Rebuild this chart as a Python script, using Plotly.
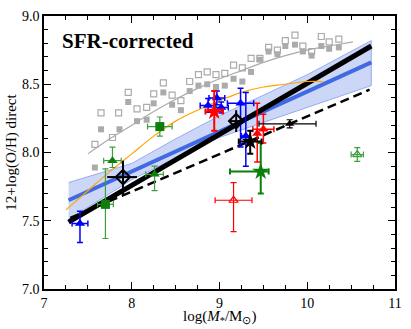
import plotly.graph_objects as go

# ── colours ─────────────────────────────────────────────────────────────────
GREY = "#ababab"
BLUE = "#0000ff"
RED = "#ff0000"
GREEN = "#0a800a"
GREEN_LT = "#3d9e3d"
ROYAL = "#4169e1"
BAND = "rgba(120,150,235,0.38)"
ORANGE = "#ffa500"
FONT = "Liberation Serif"

# ── background sample (grey squares + running fit) ─────────────────────────
GREY_OPEN_X = [7.58, 7.65, 7.78, 7.85, 7.96, 8.06, 8.17, 8.25, 8.36, 8.46, 8.56, 8.66,
               8.76, 8.86, 8.96, 9.06, 9.16, 9.26, 9.36, 9.46, 9.56, 9.66, 9.75, 9.86,
               9.95, 10.05, 10.16, 10.25, 10.36]
GREY_OPEN_Y = [8.06, 8.29, 8.11, 8.29, 8.44, 8.32, 8.33, 8.43, 8.51, 8.42, 8.38, 8.52,
               8.57, 8.59, 8.57, 8.58, 8.64, 8.62, 8.69, 8.69, 8.77, 8.75, 8.82, 8.86,
               8.78, 8.74, 8.85, 8.81, 8.83]
GREY_FILL_X = [7.58, 7.65, 7.86, 7.96, 8.06, 8.17, 8.25, 8.36, 8.46, 8.56, 8.66, 8.76,
               8.86, 8.96, 9.06, 9.16, 9.26, 9.36, 9.46, 9.56, 9.66, 9.75, 9.86, 9.95,
               10.05, 10.16, 10.25, 10.36]
GREY_FILL_Y = [7.89, 8.17, 8.17, 8.37, 8.23, 8.24, 8.36, 8.44, 8.35, 8.31, 8.45, 8.49,
               8.50, 8.48, 8.49, 8.54, 8.52, 8.59, 8.68, 8.74, 8.72, 8.78, 8.79, 8.74,
               8.71, 8.78, 8.76, 8.77]
GREY_LINE_X = [7.5, 7.75, 8.0, 8.25, 8.5, 8.75, 9.0, 9.25, 9.5, 9.75, 10.0, 10.25, 10.52]
GREY_LINE_Y = [7.99, 8.10, 8.20, 8.30, 8.39, 8.47, 8.54, 8.60, 8.66, 8.71, 8.75, 8.78, 8.81]

ORANGE_X = [7.25, 7.5, 7.75, 8.0, 8.25, 8.5, 8.75, 9.0, 9.25, 9.5, 9.75, 10.0, 10.18]
ORANGE_Y = [7.58, 7.72, 7.86, 7.99, 8.12, 8.23, 8.31, 8.38, 8.44, 8.48, 8.50, 8.52, 8.52]

# ── fits ────────────────────────────────────────────────────────────────────
FIT_X = [7.28, 10.73]
BLACK_FIT_Y = [7.49, 8.78]
BLUE_FIT_Y = [7.65, 8.66]
DASH_X = [7.30, 10.71]
DASH_Y = [7.52, 8.46]
BAND_X = [7.28, 8.0, 8.5, 9.0, 9.5, 10.0, 10.73]
BAND_HI = [7.78, 7.92, 8.10, 8.27, 8.42, 8.57, 8.82]
BAND_LO = [7.51, 7.80, 7.96, 8.11, 8.22, 8.33, 8.49]

# ── individual galaxies ─────────────────────────────────────────────────────
BLUE_TRI_X = [7.41, 8.87, 8.97, 9.02, 9.24, 9.30]
BLUE_TRI_Y = [7.48, 8.345, 8.40, 8.33, 8.36, 8.12]
BLUE_TRI_YP = [0.09, 0.05, 0.05, 0.04, 0.11, 0.32]
BLUE_TRI_YM = [0.14, 0.05, 0.05, 0.04, 0.32, 0.22]
BLUE_TRI_XE = [0.09, 0.09, 0.09, 0.08, 0.15, 0.05]

RED_STAR_X = [8.94]
RED_STAR_Y = [8.30]
RED_STAR_YP = [0.15]
RED_STAR_YM = [0.14]
RED_STAR_XE = [0.10]

RED_TRI_X = [9.43, 9.50]
RED_TRI_Y = [8.14, 8.17]
RED_TRI_YP = [0.22, 0.11]
RED_TRI_YM = [0.21, 0.10]
RED_TRI_XE = [0.0, 0.12]

RED_OPEN_X = [9.16]
RED_OPEN_Y = [7.65]
RED_OPEN_YP = [0.13]
RED_OPEN_YM = [0.23]
RED_OPEN_XE = [0.21]

GREEN_SQ_X = [7.70, 8.32]
GREEN_SQ_Y = [7.62, 8.19]
GREEN_SQ_YP = [0.26, 0.07]
GREEN_SQ_YM = [0.25, 0.07]
GREEN_SQ_XE = [0.09, 0.14]

GREEN_TRI_X = [7.78, 8.26]
GREEN_TRI_Y = [7.94, 7.84]
GREEN_TRI_YP = [0.10, 0.06]
GREEN_TRI_YM = [0.05, 0.12]
GREEN_TRI_XE = [0.10, 0.10]

GREEN_STAR_X = [9.47]
GREEN_STAR_Y = [7.86]
GREEN_STAR_YP = [0.21]
GREEN_STAR_YM = [0.16]
GREEN_STAR_XP = [0.09]
GREEN_STAR_XM = [0.35]

GREEN_OPEN_X = [10.57]
GREEN_OPEN_Y = [7.985]
GREEN_OPEN_YE = [0.05]
GREEN_OPEN_XE = [0.07]

BLACK_DIA_X = [7.90, 9.19]
BLACK_DIA_Y = [7.82, 8.23]
BLACK_DIA_YP = [0.12, 0.08]
BLACK_DIA_YM = [0.13, 0.08]
BLACK_DIA_XP = [0.16, 0.08]
BLACK_DIA_XM = [0.18, 0.08]

BLACK_STAR_X = [9.35]
BLACK_STAR_Y = [8.08]
BLACK_STAR_YP = [0.08]
BLACK_STAR_YM = [0.09]
BLACK_STAR_XE = [0.13]

BLACK_TRI_X = [9.80]
BLACK_TRI_Y = [8.21]
BLACK_TRI_YE = [0.03]
BLACK_TRI_XP = [0.30]
BLACK_TRI_XM = [0.35]


def err(plus, minus=None, color="black", thick=1.2, width=3):
    d = dict(type="data", array=plus, color=color, thickness=thick, width=width)
    if minus is not None:
        d.update(symmetric=False, arrayminus=minus)
    return d


def points(x, y, symbol, color, size, ex, ey, line_w=0):
    return go.Scatter(
        x=x, y=y, mode="markers",
        marker=dict(symbol=symbol, color=color, size=size,
                    line=dict(color=color, width=line_w)),
        error_x=ex, error_y=ey, showlegend=False, hoverinfo="x+y",
    )


fig = go.Figure()

# grey comparison sample
fig.add_trace(go.Scatter(x=GREY_OPEN_X, y=GREY_OPEN_Y, mode="markers",
                         marker=dict(symbol="square-open", size=6, color=GREY,
                                     line=dict(width=1.2)), showlegend=False))
fig.add_trace(go.Scatter(x=GREY_FILL_X, y=GREY_FILL_Y, mode="markers",
                         marker=dict(symbol="square", size=6, color=GREY), showlegend=False))
fig.add_trace(go.Scatter(x=GREY_LINE_X, y=GREY_LINE_Y, mode="lines",
                         line=dict(color=GREY, width=1.2, shape="spline"), showlegend=False))

# confidence band of the blue fit
fig.add_trace(go.Scatter(x=BAND_X + BAND_X[::-1], y=BAND_HI + BAND_LO[::-1],
                         fill="toself", fillcolor=BAND, mode="lines",
                         line=dict(color="rgba(100,130,230,0.6)", width=1),
                         showlegend=False, hoverinfo="skip"))
fig.add_trace(go.Scatter(x=FIT_X, y=BLUE_FIT_Y, mode="lines",
                         line=dict(color=ROYAL, width=4), showlegend=False))
fig.add_trace(go.Scatter(x=FIT_X, y=BLACK_FIT_Y, mode="lines",
                         line=dict(color="black", width=5), showlegend=False))
fig.add_trace(go.Scatter(x=DASH_X, y=DASH_Y, mode="lines",
                         line=dict(color="black", width=2.5, dash="9px,5px"), showlegend=False))
fig.add_trace(go.Scatter(x=ORANGE_X, y=ORANGE_Y, mode="lines",
                         line=dict(color=ORANGE, width=1.2, shape="spline"), showlegend=False))

# galaxies
fig.add_trace(points(GREEN_OPEN_X, GREEN_OPEN_Y, "triangle-up-open", GREEN_LT, 8,
                     err(GREEN_OPEN_XE, color=GREEN_LT), err(GREEN_OPEN_YE, color=GREEN_LT),
                     line_w=1.2))
fig.add_trace(points(RED_OPEN_X, RED_OPEN_Y, "triangle-up-open", RED, 8,
                     err(RED_OPEN_XE, color=RED), err(RED_OPEN_YP, RED_OPEN_YM, color=RED),
                     line_w=1.2))
fig.add_trace(points(GREEN_SQ_X, GREEN_SQ_Y, "square", GREEN, 9,
                     err(GREEN_SQ_XE, color=GREEN_LT),
                     err(GREEN_SQ_YP, GREEN_SQ_YM, color=GREEN_LT)))
fig.add_trace(points(GREEN_TRI_X, GREEN_TRI_Y, "triangle-up", GREEN, 9,
                     err(GREEN_TRI_XE, color=GREEN_LT),
                     err(GREEN_TRI_YP, GREEN_TRI_YM, color=GREEN_LT)))
fig.add_trace(points(GREEN_STAR_X, GREEN_STAR_Y, "star", GREEN, 13,
                     err(GREEN_STAR_XP, GREEN_STAR_XM, color=GREEN, thick=2),
                     err(GREEN_STAR_YP, GREEN_STAR_YM, color=GREEN, thick=2)))
fig.add_trace(points(BLUE_TRI_X, BLUE_TRI_Y, "triangle-up", BLUE, 9,
                     err(BLUE_TRI_XE, color=BLUE, thick=1.5),
                     err(BLUE_TRI_YP, BLUE_TRI_YM, color=BLUE, thick=1.5)))
fig.add_trace(points(RED_TRI_X, RED_TRI_Y, "triangle-up", RED, 9,
                     err(RED_TRI_XE, color=RED, thick=1.5),
                     err(RED_TRI_YP, RED_TRI_YM, color=RED, thick=1.5)))
fig.add_trace(points(RED_STAR_X, RED_STAR_Y, "star", RED, 13,
                     err(RED_STAR_XE, color=RED, thick=2),
                     err(RED_STAR_YP, RED_STAR_YM, color=RED, thick=2)))
fig.add_trace(points(BLACK_TRI_X, BLACK_TRI_Y, "triangle-up", "black", 8,
                     err(BLACK_TRI_XP, BLACK_TRI_XM, thick=1.2),
                     err(BLACK_TRI_YE, thick=1.2)))
fig.add_trace(points(BLACK_STAR_X, BLACK_STAR_Y, "star", "black", 13,
                     err(BLACK_STAR_XE, thick=2), err(BLACK_STAR_YP, BLACK_STAR_YM, thick=2)))
fig.add_trace(points(BLACK_DIA_X, BLACK_DIA_Y, "diamond-open", "black", 11,
                     err(BLACK_DIA_XP, BLACK_DIA_XM, thick=2, width=0),
                     err(BLACK_DIA_YP, BLACK_DIA_YM, thick=2, width=0), line_w=2))

axis_common = dict(
    showline=True, linecolor="black", linewidth=1.5, mirror="allticks",
    ticks="inside", ticklen=7, tickwidth=1, tickcolor="black",
    showgrid=False, zeroline=False,
    tickfont=dict(family=FONT, size=14, color="black"),
)
fig.update_xaxes(range=[7, 11], dtick=1, tick0=7,
                 minor=dict(dtick=0.25, ticks="inside", ticklen=4, tickcolor="black"),
                 **axis_common)
fig.update_yaxes(range=[7, 9], dtick=0.5, tick0=7, tickformat=".1f",
                 minor=dict(dtick=0.1, ticks="inside", ticklen=4, tickcolor="black"),
                 title=dict(text="12+log(O/H) direct",
                            font=dict(family=FONT, size=15, color="black"), standoff=2),
                 **axis_common)

# x-axis title as an annotation so it sits where the reference puts it
fig.add_annotation(x=0.5, y=0, xref="paper", yref="paper", xanchor="center",
                   yanchor="top", yshift=-17, showarrow=False,
                   text="log(<i>M</i><sub>*</sub>/M<sub>⊙</sub>)",
                   font=dict(family=FONT, size=15, color="black"))
fig.add_annotation(x=0.045, y=0.96, xref="paper", yref="paper", xanchor="left",
                   yanchor="top", showarrow=False, text="<b>SFR-corrected</b>",
                   font=dict(family=FONT, size=21, color="black"))

fig.update_layout(
    width=411, height=329,
    margin=dict(l=41, r=9, t=12, b=40),
    paper_bgcolor="white", plot_bgcolor="white",
    showlegend=False,
    font=dict(family=FONT, color="black"),
)

# the page's default body margin would push the figure 8px down/right
fig.write_html("out.html", config={"displayModeBar": False},
               post_script="document.body.style.margin='0';")
